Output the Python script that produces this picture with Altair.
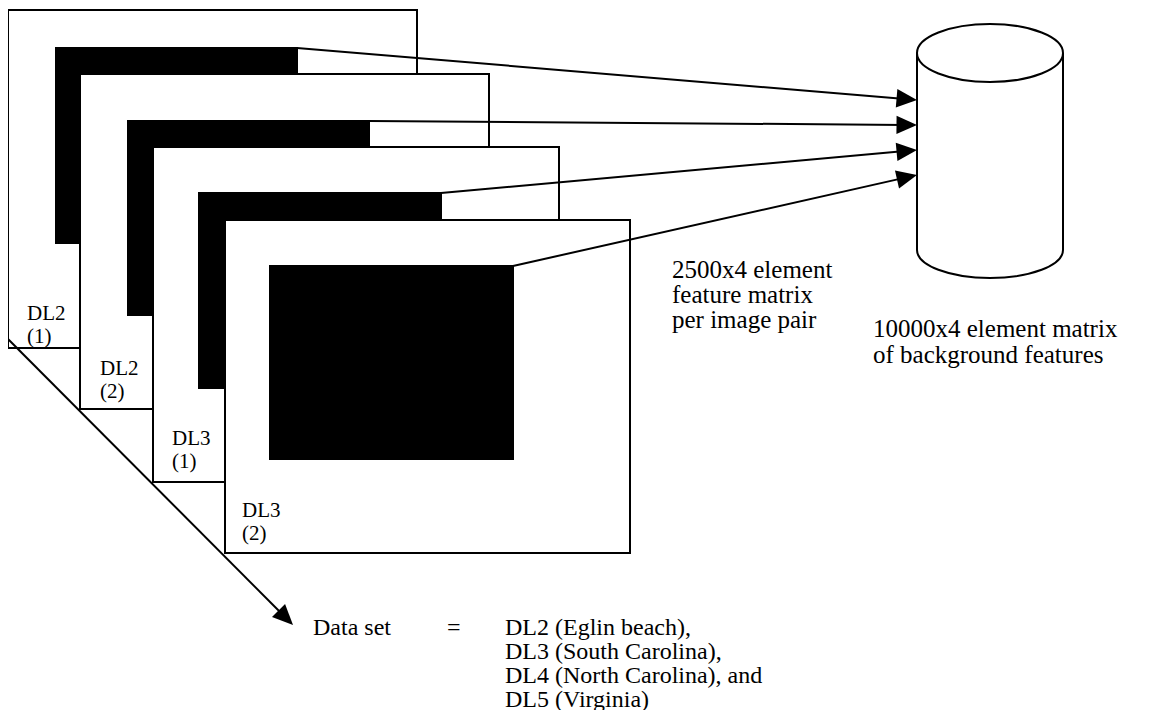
import math
import altair as alt
import pandas as pd

# ---- coordinate frame of the reference picture (page pixels) ----
X_MIN, X_MAX = 8, 1146
Y_MIN, Y_MAX = 8, 712

# ---- stacked image frames (back to front) ----
frame_left = [8, 80, 153, 225]
frame_right = [417, 489, 559, 630]
frame_top = [10, 74, 147, 220]
frame_bottom = [348, 409, 482, 553]

# ---- black image blocks inside each frame ----
image_left = [56, 128, 199, 270]
image_right = [297, 369, 441, 513]
image_top = [48, 121, 193, 266]
image_bottom = [243, 315, 388, 459]

# ---- frame labels ----
label_line1 = ["DL2", "DL2", "DL3", "DL3"]
label_line2 = ["(1)", "(2)", "(1)", "(2)"]
label_x = [27, 100, 172, 242]
label_y1 = [320, 375, 445, 517]
label_y2 = [343, 398, 468, 540]

# ---- database cylinder ----
cyl_left, cyl_right = 917, 1063
cyl_top_center, cyl_bottom_center = 53, 250
cyl_ry_top, cyl_ry_bottom = 29, 28

# ---- arrows from each image block into the cylinder ----
arrow_tip_y = [100, 125, 150, 175]

# ---- diagonal "data set" arrow ----
diag_start = (8, 339)
diag_tip = (293, 625)

# ---- texts ----
feature_text = ["2500x4 element", "feature matrix", "per image pair"]
feature_x = 672
feature_y = [278, 303, 328]

background_text = ["10000x4 element matrix", "of background features"]
background_x = 873
background_y = [337, 363]

dataset_label = "Data set"
dataset_label_x = 313
equals_sign = "="
equals_x = 447
dataset_items = ["DL2 (Eglin beach),", "DL3 (South Carolina),",
                 "DL4 (North Carolina), and", "DL5 (Virginia)"]
dataset_items_x = 505
dataset_items_y = [635, 659, 683, 707]

FONT = "Liberation Serif"

# ---------------- build tables ----------------
rect_rows = []
for i in range(len(frame_left)):
    rect_rows.append(dict(x=frame_left[i], x2=frame_right[i], y=frame_top[i],
                          y2=frame_bottom[i], fill="white", k=2 * i))
    rect_rows.append(dict(x=image_left[i], x2=image_right[i], y=image_top[i],
                          y2=image_bottom[i], fill="black", k=2 * i + 1))
rect_df = pd.DataFrame(rect_rows)

arrows = []
for i in range(len(image_right)):
    arrows.append(((image_right[i], image_top[i]), (cyl_left, arrow_tip_y[i])))
arrows.append((diag_start, diag_tip))

HEAD_LEN = 20
line_rows, head_rows = [], []
for (x0, y0), (x1, y1) in arrows:
    L = math.hypot(x1 - x0, y1 - y0)
    ux, uy = (x1 - x0) / L, (y1 - y0) / L
    line_rows.append(dict(x=x0, y=y0, x2=x1 - ux * HEAD_LEN * 0.6, y2=y1 - uy * HEAD_LEN * 0.6))
    head_rows.append(dict(x=x1, y=y1, angle=math.degrees(math.atan2(y1 - y0, x1 - x0)) % 360))
line_df = pd.DataFrame(line_rows)
head_df = pd.DataFrame(head_rows)

# cylinder outline as a path relative to the top-ellipse centre (size=4 -> unit scale)
rx = (cyl_right - cyl_left) / 2
h = cyl_bottom_center - cyl_top_center
cyl_path = (
    f"M{-rx},{h}L{-rx},0A{rx},{cyl_ry_top} 0 1 1 {rx},0L{rx},{h}"
    f"A{rx},{cyl_ry_bottom} 0 0 1 {-rx},{h}Z"
    f"M{-rx},0A{rx},{cyl_ry_top} 0 0 0 {rx},0"
)
cyl_df = pd.DataFrame([dict(x=(cyl_left + cyl_right) / 2, y=cyl_top_center)])

label_rows = []
for i in range(len(label_x)):
    label_rows.append(dict(x=label_x[i], y=label_y1[i], t=label_line1[i]))
    label_rows.append(dict(x=label_x[i], y=label_y2[i], t=label_line2[i]))
label_df = pd.DataFrame(label_rows)

text_rows = []
for t, y in zip(feature_text, feature_y):
    text_rows.append(dict(x=feature_x, y=y, t=t))
for t, y in zip(background_text, background_y):
    text_rows.append(dict(x=background_x, y=y, t=t))
text_df = pd.DataFrame(text_rows)

ds_rows = [dict(x=dataset_label_x, y=dataset_items_y[0], t=dataset_label),
           dict(x=equals_x, y=dataset_items_y[0], t=equals_sign)]
for t, y in zip(dataset_items, dataset_items_y):
    ds_rows.append(dict(x=dataset_items_x, y=y, t=t))
ds_df = pd.DataFrame(ds_rows)

# ---------------- scales ----------------
xs = alt.Scale(domain=[X_MIN, X_MAX], range=[0, X_MAX - X_MIN], nice=False, zero=False)
ys = alt.Scale(domain=[Y_MIN, Y_MAX], range=[0, Y_MAX - Y_MIN], nice=False, zero=False)


def X(f="x"):
    return alt.X(f"{f}:Q", scale=xs, axis=None)


def Y(f="y"):
    return alt.Y(f"{f}:Q", scale=ys, axis=None)


rects = alt.Chart(rect_df).mark_rect(stroke="black", strokeWidth=2).encode(
    x=X(), x2="x2:Q", y=Y(), y2="y2:Q",
    fill=alt.Fill("fill:N", scale=None),
    order=alt.Order("k:Q"),
)

lines = alt.Chart(line_df).mark_rule(color="black", strokeWidth=2).encode(
    x=X(), x2="x2:Q", y=Y(), y2="y2:Q"
)

heads = alt.Chart(head_df).mark_point(
    shape="M0,0L-2,-0.9L-2,0.9Z", filled=True, size=420, color="black", opacity=1
).encode(x=X(), y=Y(), angle=alt.Angle("angle:Q", scale=None))

cylinder = alt.Chart(cyl_df).mark_point(
    shape=cyl_path, size=4, fill="white", stroke="black", strokeWidth=2,
    opacity=1, fillOpacity=1
).encode(x=X(), y=Y())

labels = alt.Chart(label_df).mark_text(
    font=FONT, fontSize=21, align="left", baseline="alphabetic", color="black"
).encode(x=X(), y=Y(), text="t:N")

texts = alt.Chart(text_df).mark_text(
    font=FONT, fontSize=25, align="left", baseline="alphabetic", color="black"
).encode(x=X(), y=Y(), text="t:N")

ds_texts = alt.Chart(ds_df).mark_text(
    font=FONT, fontSize=24, align="left", baseline="alphabetic", color="black"
).encode(x=X(), y=Y(), text="t:N")

chart = (
    alt.layer(rects, lines, heads, cylinder, labels, texts, ds_texts)
    .properties(width=X_MAX - X_MIN, height=Y_MAX - Y_MIN, padding=0,
                autosize=alt.AutoSizeParams(type="none"), background="white")
    .configure_view(stroke=None)
)

chart.save("out.html", embed_options={"renderer": "svg", "actions": False})
